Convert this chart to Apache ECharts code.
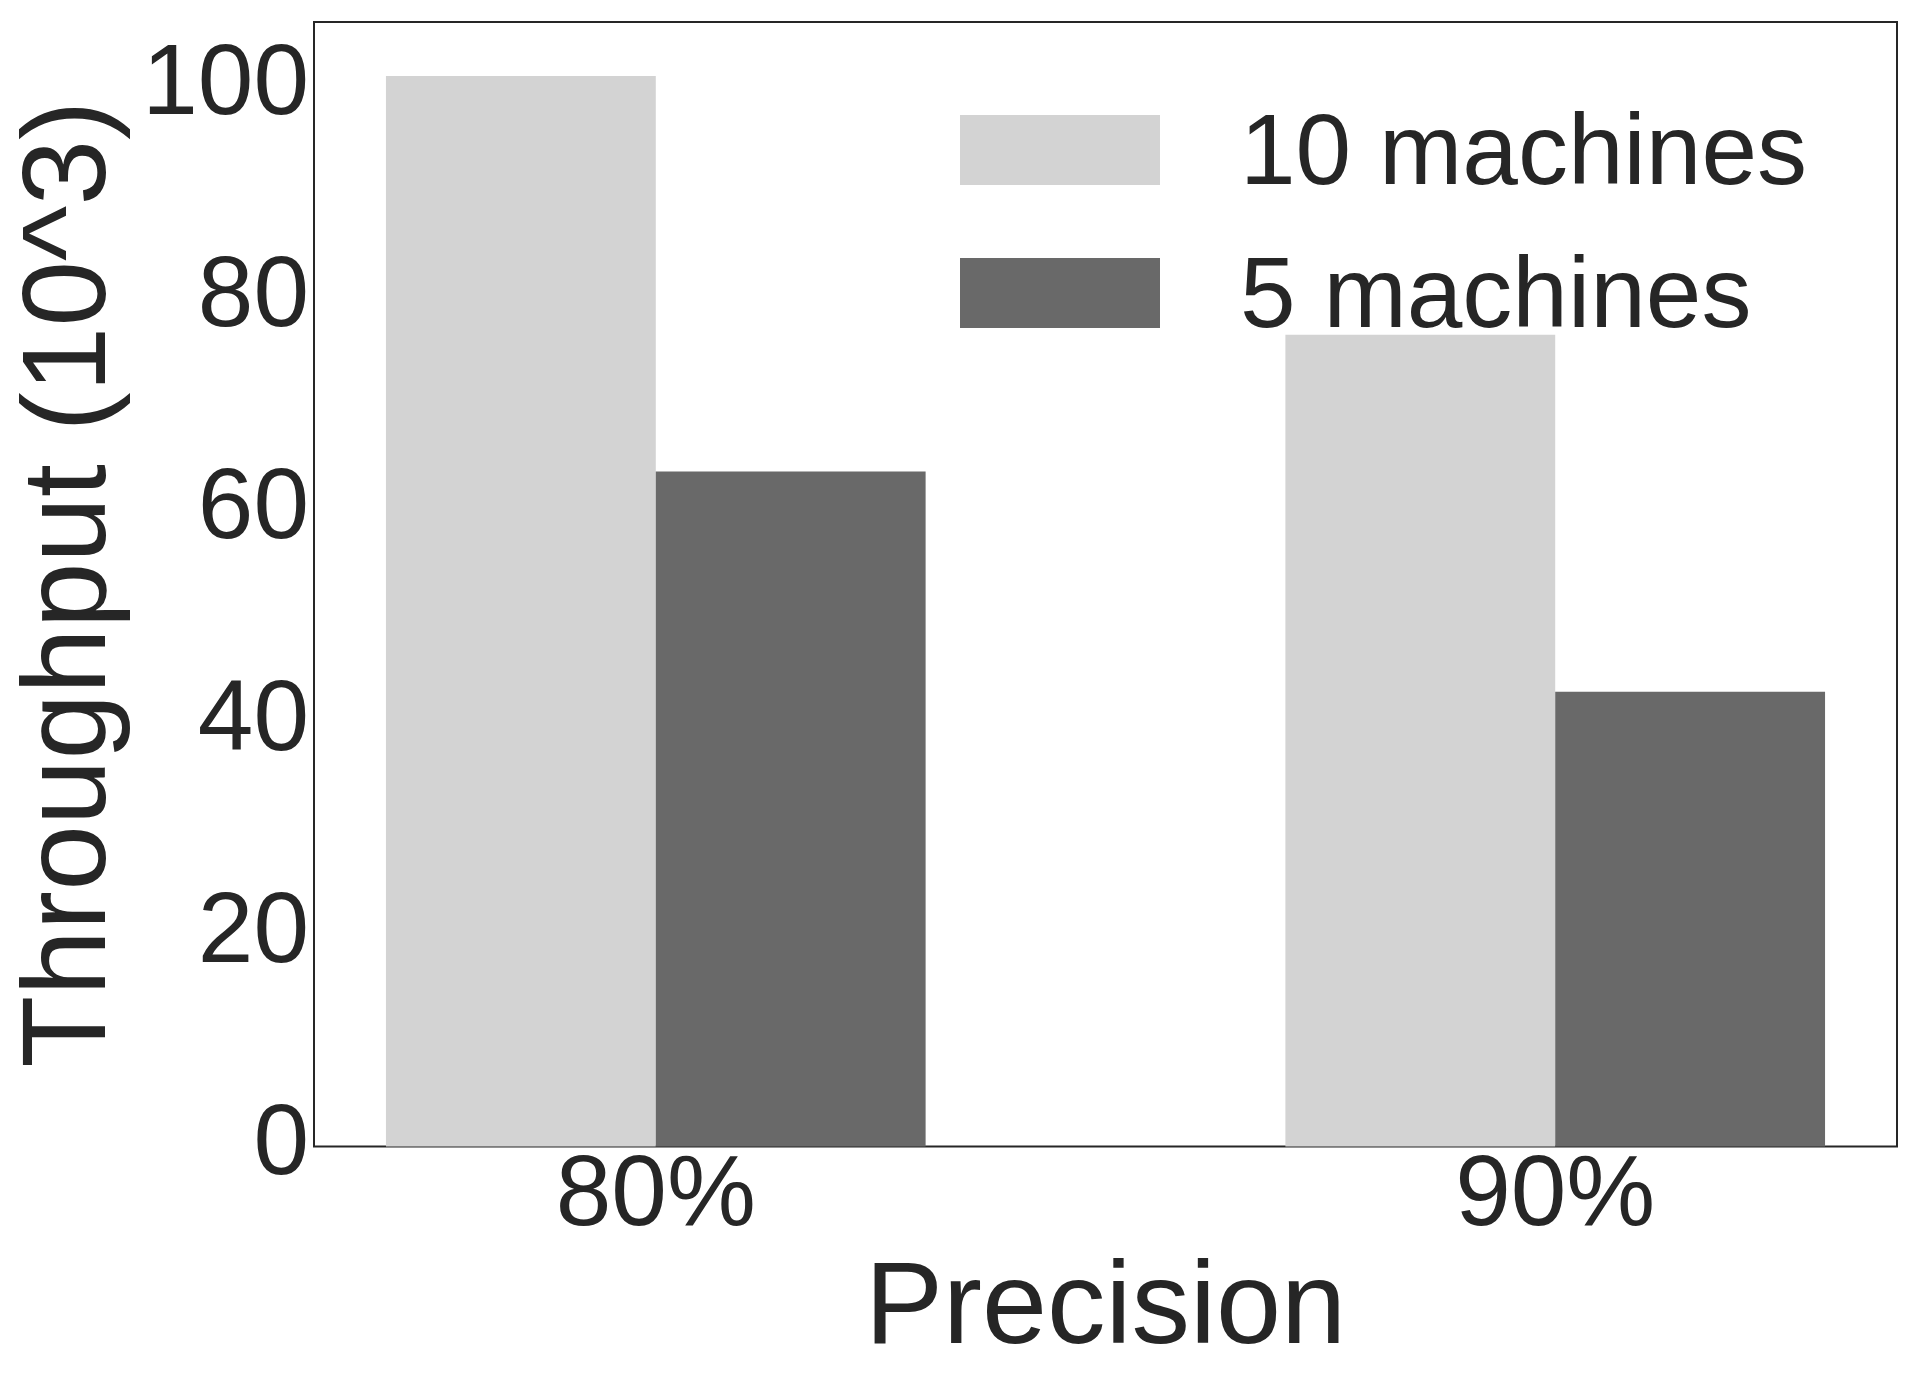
<!DOCTYPE html>
<html>
<head>
<meta charset="utf-8">
<script src="https://cdn.jsdelivr.net/npm/echarts@6/dist/echarts.min.js"></script>
<style>
  html, body { margin: 0; padding: 0; background: #fff; }
  #chart { width: 1920px; height: 1388px; }
</style>
</head>
<body>
<div id="chart"></div>
<script>
// 数据
const categories = ['80%', '90%']
const tenMachines = [101.0, 76.6]
const fiveMachines = [63.7, 42.9]
const yTicks = [0, 20, 40, 60, 80, 100]
const xTicks = [0, 1]

const font = 'Liberation Sans, Arial, sans-serif'
const textColor = '#262626'
// 图例色块: 上方矩形 + 下方一个空点, 让文字比色块略低一点
const legendIcon = 'path://M0,0 L200,0 L200,70 L0,70 Z M0,82 L0,82'

const myChart = echarts.init(document.getElementById('chart'))
myChart.setOption({
  animation: false,
  textStyle: { fontFamily: font },
  grid: {
    left: 314,
    right: 23,
    top: 22,
    bottom: 241.5,
    containLabel: false,
    outerBoundsMode: 'none',
    show: true,
    borderColor: textColor,
    borderWidth: 2,
    backgroundColor: 'transparent'
  },
  legend: {
    orient: 'vertical',
    left: 955,
    top: 101,
    itemWidth: 200,
    itemHeight: 82,
    itemGap: 43,
    icon: legendIcon,
    textStyle: {
      fontSize: 100,
      color: textColor,
      fontFamily: font,
      padding: [0, 0, 0, 75]
    },
    data: ['10 machines', '5 machines']
  },
  xAxis: {
    type: 'value',
    min: -0.38,
    max: 1.38,
    name: 'Precision',
    nameLocation: 'middle',
    nameGap: 93,
    nameTextStyle: { fontSize: 117, color: textColor, fontFamily: font },
    axisLine: { show: false },
    axisTick: { show: false },
    splitLine: { show: false },
    axisLabel: {
      customValues: xTicks,
      formatter: (v) => categories[Math.round(v)],
      fontSize: 100,
      color: textColor,
      margin: 1
    }
  },
  yAxis: {
    type: 'value',
    min: 0,
    max: 106.1,
    name: 'Throughput (10^3)',
    nameLocation: 'middle',
    nameGap: 175,
    nameTextStyle: { fontSize: 118, color: textColor, fontFamily: font },
    axisLine: { show: false },
    axisTick: { show: false },
    splitLine: { show: false },
    axisLabel: {
      customValues: yTicks,
      fontSize: 100,
      color: textColor,
      margin: 5
    }
  },
  series: [
    {
      name: '10 machines',
      type: 'bar',
      barWidth: '30%',
      barGap: '0%',
      itemStyle: { color: '#d3d3d3' },
      data: xTicks.map((x, i) => [x, tenMachines[i]])
    },
    {
      name: '5 machines',
      type: 'bar',
      barWidth: '30%',
      barGap: '0%',
      itemStyle: { color: '#696969' },
      data: xTicks.map((x, i) => [x, fiveMachines[i]])
    }
  ]
})
window.onresize = myChart.resize
</script>
</body>
</html>
